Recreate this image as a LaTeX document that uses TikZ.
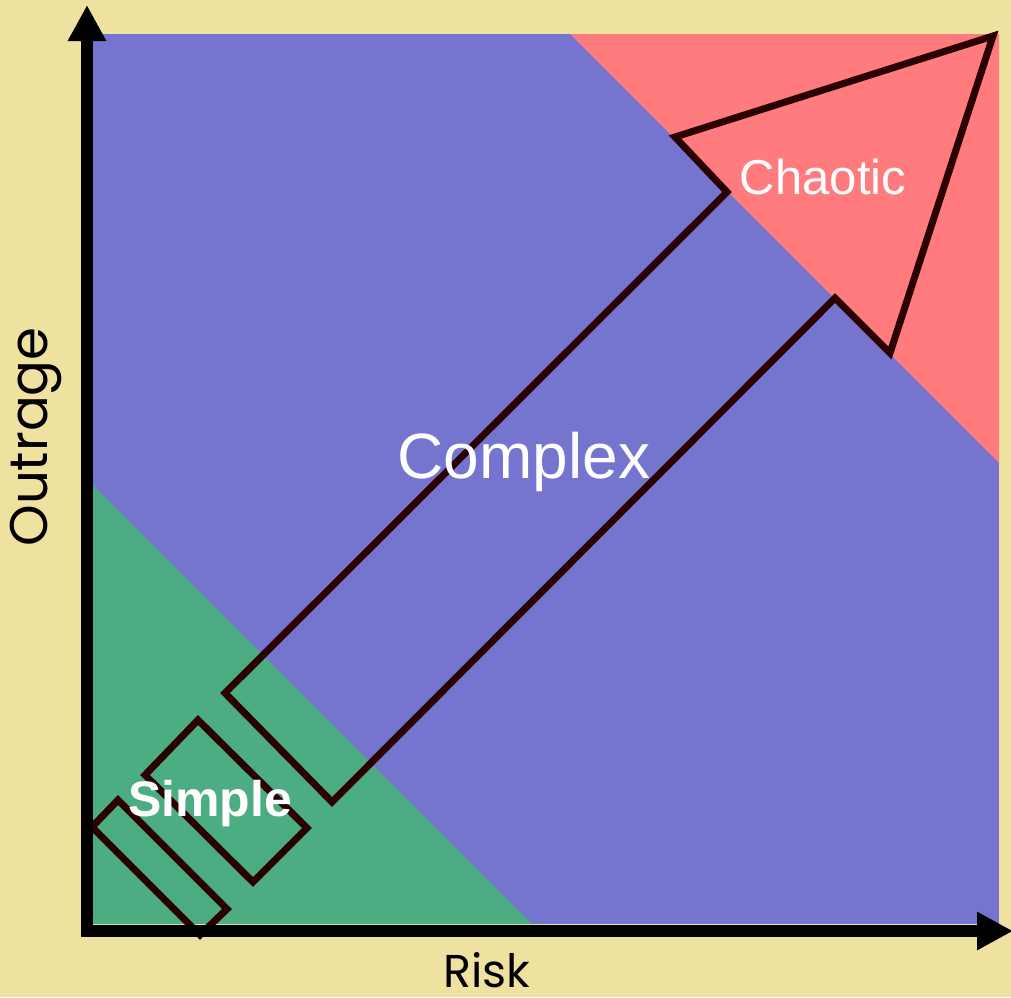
\documentclass[tikz,border=0pt]{standalone}
\usepackage{fontspec}
\setmainfont{Liberation Sans}
\newfontfamily\axisfont{Poppins}
\usetikzlibrary{arrows.meta}
\definecolor{sand}{HTML}{EFE2A0}
\definecolor{complexblue}{HTML}{7575CF}
\definecolor{chaosred}{HTML}{FF7B7E}
\definecolor{simplegreen}{HTML}{4DAD82}
\definecolor{outline}{HTML}{2A0000}

\begin{document}
\begin{tikzpicture}[
  x=1pt, y=-1pt,
  outl/.style={draw=outline, line width=7pt, line join=miter},
  axis/.style={line width=12pt, -{Triangle[length=36pt, width=36pt]}},
  lbl/.style={text=white, inner sep=0pt},
  axlbl/.style={inner sep=0pt},
]
  % canvas
  \fill[sand] (0,0) rectangle (1011,997);
  \useasboundingbox (0,0) rectangle (1011,997);

  % regions
  \fill[complexblue] (93,34) rectangle (999,924);
  \fill[chaosred] (570,34) -- (999,34) -- (999,463) -- cycle;
  \fill[simplegreen] (93,485) -- (93,924) -- (532,924) -- cycle;

  % big arrow
  \draw[outl] (993,36) -- (675,137) -- (727,192) -- (225,693)
    -- (332,802) -- (835,298) -- (890,353) -- cycle;

  % small bars
  \draw[outl] (198,720) -- (307,828) -- (253,882) -- (145,775) -- cycle;
  \draw[outl] (118,800) -- (227,909) -- (200,935) -- (92,827) -- cycle;

  % axes
  \coordinate (origin) at (87,931);
  \coordinate (ytop) at (87,5);
  \coordinate (xend) at (1013,931);
  \draw[axis] ([yshift=-6pt]origin) -- (ytop);
  \draw[axis] ([xshift=-6pt]origin) -- (xend);

  % labels
  \node[lbl, font=\fontsize{49}{59}\selectfont] (chaotic) at (823,177) {Chaotic};
  \node[lbl, font=\fontsize{64}{76}\selectfont] (complex) at (524,462) {Complex};
  \node[lbl, font=\fontsize{50}{60}\selectfont\bfseries] (simple) at (210,804) {Simple};
  \node[axlbl, font=\axisfont\fontsize{53}{64}\selectfont, rotate=90] (outrage) at (36,437) {Outrage};
  \node[axlbl, font=\axisfont\fontsize{46}{56}\selectfont, anchor=base] (risk) at (487,987) {Risk};
\end{tikzpicture}
\end{document}
